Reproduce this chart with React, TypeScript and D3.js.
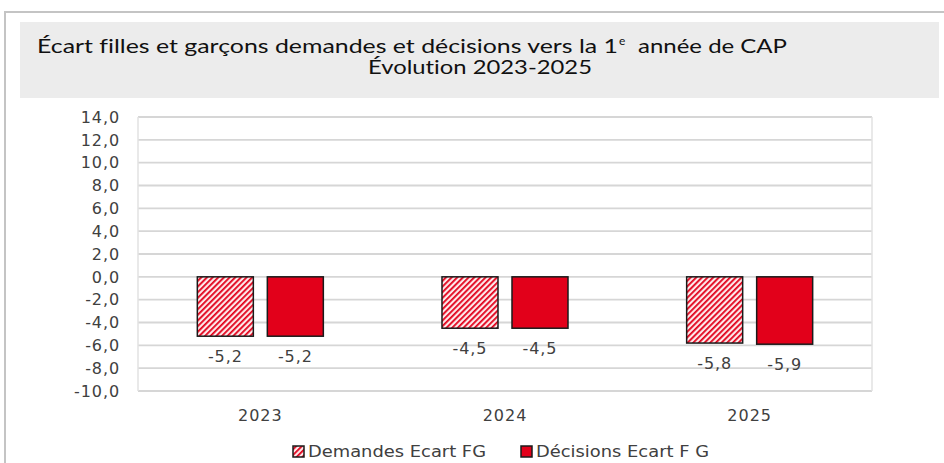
import React from "react";
import * as d3 from "d3";

const years = ["2023", "2024", "2025"];
const seriesNames = ["Demandes Ecart FG", "Décisions Ecart F G"];
const demandes = [-5.2, -4.5, -5.8];
const decisions = [-5.2, -4.5, -5.9];
const yTicks = [14, 12, 10, 8, 6, 4, 2, 0, -2, -4, -6, -8, -10];
const titleLine1 = "Écart filles et garçons demandes et décisions vers la 1";
const titleSup = "e";
const titleLine1b = "année de CAP";
const titleLine2 = "Évolution 2023-2025";

const RED = "#e2001a";
const fmt = (v: number) => d3.format(".1f")(v).replace(".", ",").replace("−", "-");

export default function App() {
  const W = 944, H = 463;
  const left = 138, right = 872, top = 117, bottom = 391;
  const y = d3.scaleLinear().domain([-10, 14]).range([bottom, top]);
  const x0 = d3.scaleBand<string>().domain(years).range([left, right]).padding(0);
  const bw = x0.bandwidth();
  const groupW = 126;
  const x1 = d3
    .scaleBand<string>()
    .domain(seriesNames)
    .range([(bw - groupW) / 2, (bw + groupW) / 2])
    .paddingInner(0.2)
    .paddingOuter(0);
  const series = [demandes, decisions];
  const tickFont = "'DejaVu Sans', sans-serif";
  const textCol = "#404040";
  const titleFont = "Lato, sans-serif";

  return (
    <svg
      width={W}
      height={H}
      style={{ position: "absolute", left: 0, top: 0, background: "#fff" }}
    >
      <defs>
        <pattern
          id="hatch"
          patternUnits="userSpaceOnUse"
          width={4}
          height={4}
          patternTransform="rotate(45)"
        >
          <rect width={4} height={4} fill="#fde9ea" />
          <rect width={1.8} height={4} fill={RED} />
        </pattern>
      </defs>
      {/* outer frame */}
      <line x1={5} y1={12} x2={W} y2={12} stroke="#c4c4c4" strokeWidth={2} />
      <line x1={5} y1={11} x2={5} y2={H} stroke="#c4c4c4" strokeWidth={2} />
      {/* title box */}
      <rect x={20} y={22} width={919} height={76} fill="#ececec" />
      <text
        x={37}
        y={53}
        fontFamily={titleFont}
        fontSize={20}
        fill="#111"
        textLength={581}
        lengthAdjust="spacingAndGlyphs"
        style={{ fontVariantLigatures: "none" }}
      >
        {titleLine1}
      </text>
      <text x={619} y={45} fontFamily={titleFont} fontSize={12} fill="#111">
        {titleSup}
      </text>
      <text
        x={638}
        y={53}
        fontFamily={titleFont}
        fontSize={20}
        fill="#111"
        textLength={149}
        lengthAdjust="spacingAndGlyphs"
      >
        {titleLine1b}
      </text>
      <text
        x={480}
        y={74}
        textAnchor="middle"
        fontFamily={titleFont}
        fontSize={20}
        fill="#111"
        textLength={224}
        lengthAdjust="spacingAndGlyphs"
        style={{ fontVariantLigatures: "none" }}
      >
        {titleLine2}
      </text>
      {/* gridlines */}
      {yTicks.map((t) => (
        <line
          key={t}
          x1={left}
          x2={right}
          y1={y(t)}
          y2={y(t)}
          stroke="#d6d6d6"
          strokeWidth={1.8}
        />
      ))}
      <line x1={left} x2={left} y1={top} y2={bottom} stroke="#e2e2e2" strokeWidth={1.5} />
      <line x1={right} x2={right} y1={top} y2={bottom} stroke="#e2e2e2" strokeWidth={1.5} />
      {/* y tick labels */}
      {yTicks.map((t) => (
        <text
          key={"l" + t}
          x={120}
          y={y(t)}
          dy="0.36em"
          textAnchor="end"
          fontFamily={tickFont}
          fontSize={16}
          letterSpacing={0.9}
          fill={textCol}
        >
          {fmt(t)}
        </text>
      ))}
      {/* bars */}
      {years.map((yr, i) => (
        <g key={yr} transform={`translate(${x0(yr)},0)`}>
          {seriesNames.map((s, j) => {
            const v = series[j][i];
            const bx = x1(s)!;
            const w = x1.bandwidth();
            return (
              <g key={s}>
                <rect
                  x={bx}
                  y={y(0)}
                  width={w}
                  height={y(v) - y(0)}
                  fill={j === 0 ? "url(#hatch)" : RED}
                  stroke="#1a1a1a"
                  strokeWidth={1.5}
                />
                <text
                  x={bx + w / 2}
                  y={y(v) + 26}
                  textAnchor="middle"
                  fontFamily={tickFont}
                  fontSize={16}
                  letterSpacing={0.9}
                  fill={textCol}
                >
                  {fmt(v)}
                </text>
              </g>
            );
          })}
          <text
            x={bw / 2}
            y={421}
            textAnchor="middle"
            fontFamily={tickFont}
            fontSize={16}
            letterSpacing={1}
            fill={textCol}
          >
            {yr}
          </text>
        </g>
      ))}
      {/* legend */}
      {seriesNames.map((s, j) => {
        const lx = j === 0 ? 293 : 521;
        return (
          <g key={"lg" + s}>
            <rect
              x={lx}
              y={446}
              width={11}
              height={11}
              fill={j === 0 ? "url(#hatch)" : RED}
              stroke="#1a1a1a"
              strokeWidth={1.5}
            />
            <text
              x={lx + 15}
              y={457}
              fontFamily={tickFont}
              fontSize={15.5}
              fill={textCol}
              textLength={j === 0 ? 178 : 173}
              lengthAdjust="spacingAndGlyphs"
            >
              {s}
            </text>
          </g>
        );
      })}
    </svg>
  );
}
